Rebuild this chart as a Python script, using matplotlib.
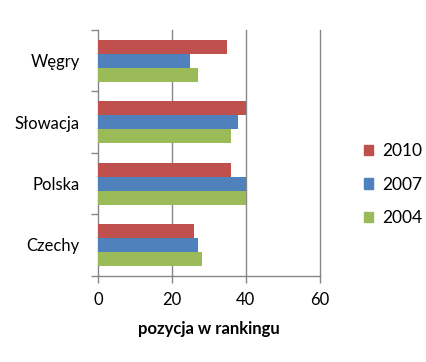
import numpy as np
import matplotlib
matplotlib.use('Agg')
import matplotlib.pyplot as plt
from matplotlib.patches import Patch

# dane
kraje = ['Czechy', 'Polska', 'Słowacja', 'Węgry']
lata = ['2010', '2007', '2004']
v2010 = [26, 36, 40, 35]
v2007 = [27, 40, 38, 25]
v2004 = [28, 40, 36, 27]
kolory = ['#C0504D', '#4F81BD', '#9BBB59']
xticks = [0, 20, 40, 60]

plt.rcParams['font.family'] = ['Lato', 'DejaVu Sans']
szary = '#868686'

fig = plt.figure(figsize=(4.27, 3.62), dpi=100)
ax = fig.add_axes([0.2295, 0.2384, 0.749 - 0.2295, 0.917 - 0.2384])

y = np.arange(len(kraje))
h = 0.228
for i, (vals, c) in enumerate(zip([v2010, v2007, v2004], kolory)):
    ax.barh(y + (1 - i) * h, vals, height=h, color=c, zorder=3)

ax.set_xlim(0, 60)
ax.set_ylim(-0.5, len(kraje) - 0.5)
ax.set_xticks(xticks)
ax.set_yticks(y)
ax.set_yticklabels(kraje, fontsize=12)
ax.set_yticks(np.arange(-0.5, len(kraje), 1), minor=True)
ax.tick_params(axis='y', which='major', length=0, pad=13)
ax.tick_params(axis='y', which='minor', length=5, color=szary, width=1)
ax.tick_params(axis='x', length=5, color=szary, width=1, labelsize=12, pad=7)

for xv in xticks[1:]:
    ax.axvline(xv, color=szary, linewidth=1, zorder=0, clip_on=False)
for s in ['top', 'right']:
    ax.spines[s].set_visible(False)
for s in ['left', 'bottom']:
    ax.spines[s].set_color(szary)
    ax.spines[s].set_linewidth(1)

ax.set_xlabel('pozycja w rankingu', fontsize=12, fontweight='bold', labelpad=9)

uchwyty = [Patch(color=c) for c in kolory]
fig.legend(uchwyty, lata, loc='center left', bbox_to_anchor=(0.815, 0.49),
           frameon=False, fontsize=12.5, handlelength=0.55, handleheight=0.55,
           labelspacing=1.0, handletextpad=0.5)

fig.savefig('out.png', dpi=100)
